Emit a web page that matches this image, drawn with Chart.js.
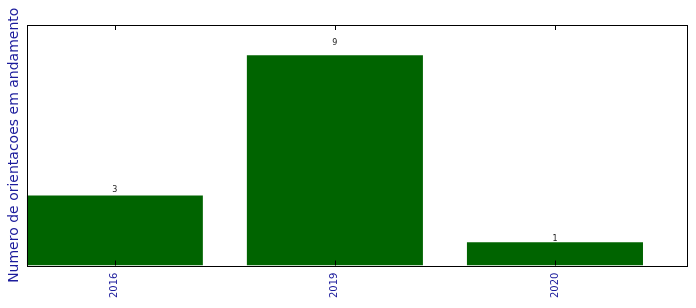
<!DOCTYPE html>
<html><head><meta charset="utf-8">
<script src="https://cdn.jsdelivr.net/npm/chart.js@4"></script>
<style>html,body{margin:0;padding:0;background:#fff}#wrap{width:696px;height:308px}</style>
</head><body><div id="wrap"><canvas id="c" width="696" height="308"></canvas></div>
<script>
const categories = ['2016', '2019', '2020'];
const values = [3, 9, 1];
const yTitle = 'Numero de orientacoes em andamento';

const points = values.map((v, i) => ({x: i, y: v}));

const framePlugin = {
  id: 'frame',
  afterDatasetsDraw(chart) {
    const {ctx, chartArea: a, scales} = chart;
    ctx.save();
    ctx.strokeStyle = '#000';
    ctx.lineWidth = 1;
    ctx.strokeRect(Math.round(a.left) + 0.5, Math.round(a.top) + 0.5, Math.round(a.right - a.left), Math.round(a.bottom - a.top));
    ctx.beginPath();
    categories.forEach((c, i) => {
      const x = Math.round(scales.x.getPixelForValue(i)) + 0.5;
      ctx.moveTo(x, a.bottom); ctx.lineTo(x, a.bottom - 5);
      ctx.moveTo(x, a.top); ctx.lineTo(x, a.top + 5);
    });
    ctx.stroke();
    ctx.fillStyle = '#222';
    ctx.font = '8px "DejaVu Sans"';
    ctx.textAlign = 'center';
    ctx.textBaseline = 'alphabetic';
    values.forEach((v, i) => {
      const x = scales.x.getPixelForValue(i);
      const y = scales.y.getPixelForValue(v * 1.05);
      ctx.fillText(String(v), x, y);
    });
    ctx.restore();
  }
};

new Chart(document.getElementById('c'), {
  type: 'bar',
  data: {
    datasets: [{
      data: points,
      backgroundColor: '#006400',
      borderColor: '#006400',
      borderWidth: 0,
      barPercentage: 0.8,
      categoryPercentage: 1.0
    }]
  },
  options: {
    responsive: false,
    animation: false,
    events: [],
    layout: {padding: {top: 25, right: 9, left: 6, bottom: 3}},
    plugins: {legend: {display: false}, tooltip: {enabled: false}},
    scales: {
      x: {
        type: 'linear',
        offset: false,
        min: -0.4,
        max: 2.6,
        afterBuildTicks(scale) { scale.ticks = categories.map((c, i) => ({value: i})); },
        grid: {display: false, drawTicks: false, offset: false},
        border: {display: false},
        ticks: {
          autoSkip: false,
          maxRotation: 90,
          minRotation: 90,
          padding: 7,
          color: '#1c1c9c',
          font: {family: '"DejaVu Sans"', size: 10},
          callback: (v) => categories[v] ?? ''
        }
      },
      y: {
        min: 0,
        max: 10.3,
        grid: {display: false, drawTicks: false},
        border: {display: false},
        ticks: {display: false},
        title: {
          display: true,
          text: yTitle,
          color: '#1c1c9c',
          font: {family: '"DejaVu Sans"', size: 14},
          padding: {top: 0, bottom: 4}
        }
      }
    }
  },
  plugins: [framePlugin]
});
</script></body></html>
